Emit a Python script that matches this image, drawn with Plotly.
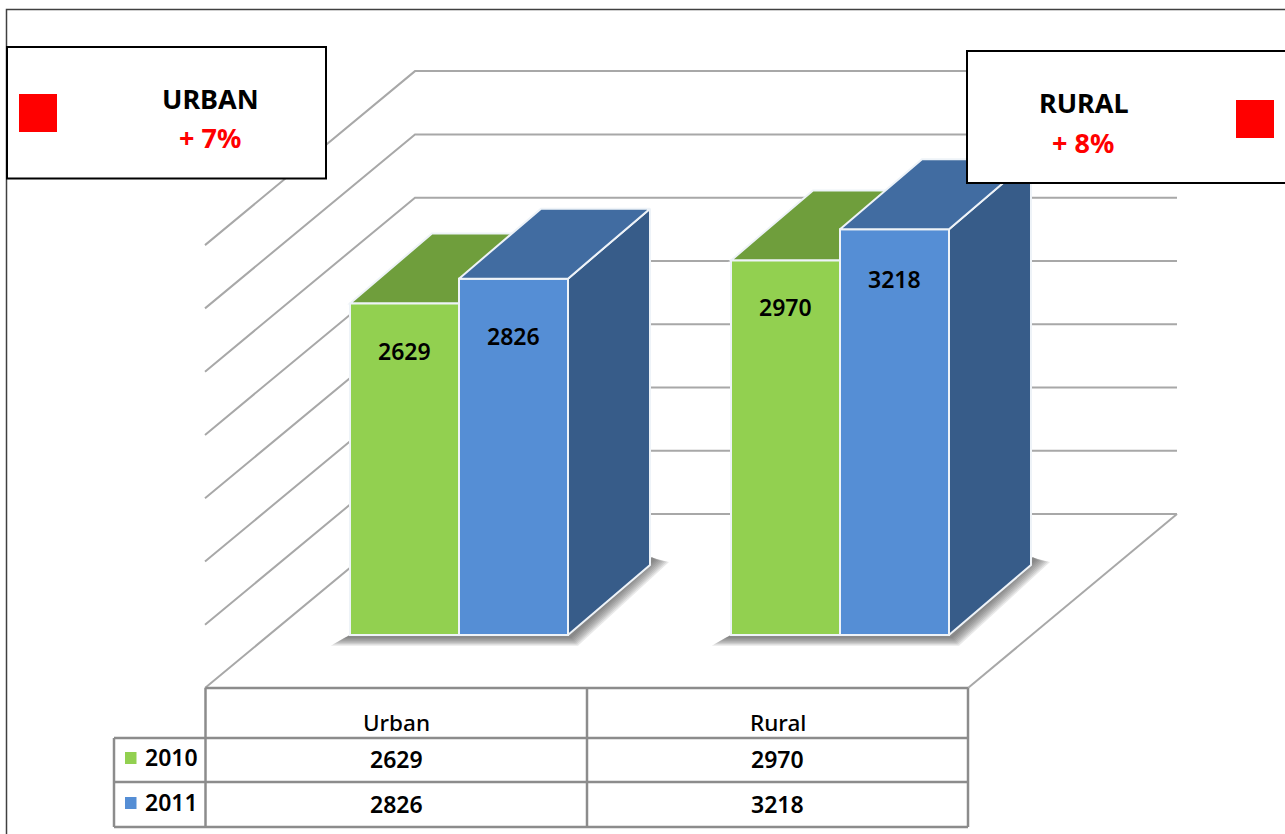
import plotly.graph_objects as go

# ---- data ----
categories = ["Urban", "Rural"]
years = ["2010", "2011"]
values_2010 = [2629, 2970]
values_2011 = [2826, 3218]
axis_ticks = [0, 500, 1000, 1500, 2000, 2500, 3000, 3500]
callout_titles = ["URBAN", "RURAL"]
callout_changes = ["+ 7%", "+ 8%"]
label_drop = {"2010": [48, 47], "2011": [57, 50]}

# ---- page geometry ----
W, H = 1285, 834
CAT_PX = 381.0      # pixels between categories
VAL_PX = 0.1261     # pixels per unit on the bar plane
WALL_SCALE = 1.0035 # back wall is marginally larger than the bar plane
X0_PX, Y0_PX = 459.0, 635.0
BAR_PX = 109.0
DEPTH_X, DEPTH_Y = 82.0, 70.0

GREEN, GREEN_TOP = "#92D050", "#6F9E3C"
BLUE, BLUE_TOP, BLUE_SIDE = "#558ED5", "#416CA1", "#375C89"
GRID = "#a8a8a8"
TBL = "#8c8c8c"
EDGE = "#eef3f8"
FONT = "Noto Sans"

def dx(p): return p / CAT_PX
def dy(p): return p / VAL_PX
def xd(px): return (px - X0_PX) / CAT_PX
def yd(py): return (Y0_PX - py) / VAL_PX
def px(x): return x / W
def py(y): return 1 - y / H

def poly(xs, ys):
    return "M " + " L ".join(f"{a:.5f},{b:.3f}" for a, b in zip(xs, ys)) + " Z"

shapes, annotations = [], []

# ---- 3D walls and floor grid ----
for t in axis_ticks:
    xs = [xd(205), xd(415), xd(1177)]
    ys = [t * WALL_SCALE + yd(688), t * WALL_SCALE + yd(514), t * WALL_SCALE + yd(514)]
    path = "M " + " L ".join(f"{a:.5f},{b:.3f}" for a, b in zip(xs, ys))
    shapes.append(dict(type="path", path=path, xref="x", yref="y", layer="below",
                       line=dict(color=GRID, width=2)))
shapes.append(dict(type="line", xref="x", yref="y", layer="below",
                   x0=xd(968), y0=yd(688), x1=xd(1177), y1=yd(514),
                   line=dict(color=GRID, width=2)))

# ---- soft shadows under each cluster ----
for i in range(len(categories)):
    x0 = i - dx(BAR_PX)
    x1 = i + dx(BAR_PX)
    for e in range(8):
        xs = [x0 - dx(6 + e * 1.9), x1 + dx(3 + e * 1.0), x1 + dx(DEPTH_X + 5 + e * 2.0),
              x1 + dx(DEPTH_X + 2), x0]
        ys = [-dy(3 + e * 1.1), -dy(3 + e * 1.1), dy(DEPTH_Y + 5 - e * 0.3),
              dy(DEPTH_Y + 8 - e * .1), 0]
        shapes.append(dict(type="path", path=poly(xs, ys), xref="x", yref="y", layer="below",
                           fillcolor="rgba(70,70,70,0.12)", line=dict(width=0)))

def faces(i, v, left):
    right = left + dx(BAR_PX)
    top = ([left, right, right + dx(DEPTH_X), left + dx(DEPTH_X)],
           [v, v, v + dy(DEPTH_Y), v + dy(DEPTH_Y)])
    side = ([right, right + dx(DEPTH_X), right + dx(DEPTH_X), right],
            [0, dy(DEPTH_Y), v + dy(DEPTH_Y), v])
    return top, side

# 2010 depth faces sit behind the 2011 bars
for i, v in enumerate(values_2010):
    top, side = faces(i, v, i - dx(BAR_PX))
    shapes.append(dict(type="path", path=poly(*top), xref="x", yref="y", layer="below",
                       fillcolor=GREEN_TOP, line=dict(color=EDGE, width=2)))

fig = go.Figure()
fig.add_bar(x=list(range(len(categories))), y=values_2010, name=years[0],
            width=dx(BAR_PX), offset=-dx(BAR_PX),
            marker=dict(color=GREEN, line=dict(color=EDGE, width=2)))
fig.add_bar(x=list(range(len(categories))), y=values_2011, name=years[1],
            width=dx(BAR_PX), offset=0,
            marker=dict(color=BLUE, line=dict(color=EDGE, width=2)))

for i, v in enumerate(values_2011):
    top, side = faces(i, v, float(i))
    for (xs, ys), col in ((side, BLUE_SIDE), (top, BLUE_TOP)):
        fig.add_scatter(x=xs + xs[:1], y=ys + ys[:1], mode="lines", fill="toself",
                        fillcolor=col, line=dict(color=EDGE, width=2),
                        hoverinfo="skip", showlegend=False)

# ---- value labels on bars ----
for year, vals, off in (("2010", values_2010, -dx(BAR_PX) / 2), ("2011", values_2011, dx(BAR_PX) / 2)):
    for i, v in enumerate(vals):
        annotations.append(dict(x=i + off, y=v, xref="x", yref="y", text=str(v), showarrow=False,
                                yshift=-label_drop[year][i], yanchor="middle",
                                font=dict(family=FONT, size=23, color="#000000", weight=600)))

# ---- data table ----
def tline(x0, y0, x1, y1):
    shapes.append(dict(type="line", xref="paper", yref="paper", layer="above",
                       x0=px(x0), y0=py(y0), x1=px(x1), y1=py(y1),
                       line=dict(color=TBL, width=2.5)))
tline(205.5, 688, 968, 688)
for yy in (738, 782, 827):
    tline(114, yy, 968, yy)
for xx in (205.5, 587, 968):
    tline(xx, 688, xx, 827)
tline(114, 738, 114, 827)

def txt(x, y, s, size, color="#000000", weight=600):
    annotations.append(dict(x=px(x), y=py(y), xref="paper", yref="paper", text=s, showarrow=False,
                            xanchor="center", yanchor="middle",
                            font=dict(family=FONT, size=size, color=color, weight=weight)))

col_x = [396.5, 777.5]
for c, x in zip(categories, col_x):
    txt(x, 722, c, 22.5, weight=500)
for row, y in ((values_2010, 759), (values_2011, 804)):
    for v, x in zip(row, col_x):
        txt(x, y, str(v), 23)
txt(171, 756.5, years[0], 23)
txt(171, 801.5, years[1], 23)
for yy, col in ((752, GREEN), (797, BLUE)):
    shapes.append(dict(type="rect", xref="paper", yref="paper", layer="above",
                       x0=px(125), x1=px(136.5), y0=py(yy), y1=py(yy + 12),
                       fillcolor=col, line=dict(width=0)))

# ---- frame ----
shapes.append(dict(type="path", xref="paper", yref="paper", layer="above",
                   path=f"M {px(6.5)},{py(834)} L {px(6.5)},{py(9.5)} L {px(1285)},{py(9.5)}",
                   line=dict(color="#404040", width=1.5)))

# ---- callouts ----
def callout(x0, y0, x1, y1, rx, ry):
    shapes.append(dict(type="rect", xref="paper", yref="paper", layer="above",
                       x0=px(x0), x1=px(x1), y0=py(y0), y1=py(y1),
                       fillcolor="#ffffff", line=dict(color="#000000", width=2)))
    shapes.append(dict(type="rect", xref="paper", yref="paper", layer="above",
                       x0=px(rx), x1=px(rx + 38), y0=py(ry), y1=py(ry + 38),
                       fillcolor="#ff0000", line=dict(width=0)))
callout(7, 47, 326, 178.5, 19, 94)
callout(967, 51, 1290, 183, 1236, 100)
txt(210, 98, callout_titles[0], 27, weight=700)
txt(209.5, 137.5, callout_changes[0], 27, "#ff0000", 700)
txt(1084, 102, callout_titles[1], 27, weight=700)
txt(1083, 142, callout_changes[1], 27, "#ff0000", 700)

fig.update_layout(
    width=W, height=H, margin=dict(l=0, r=0, t=0, b=0, pad=0),
    paper_bgcolor="#ffffff", plot_bgcolor="#ffffff",
    barmode="overlay", showlegend=False,
    xaxis=dict(range=[xd(0), xd(W)], visible=False, fixedrange=True),
    yaxis=dict(range=[yd(H), yd(0)], visible=False, fixedrange=True),
    shapes=shapes, annotations=annotations,
)
fig.write_html("out.html", config=dict(displayModeBar=False),
               post_script="document.body.style.margin='0';document.body.style.overflow='hidden';")
